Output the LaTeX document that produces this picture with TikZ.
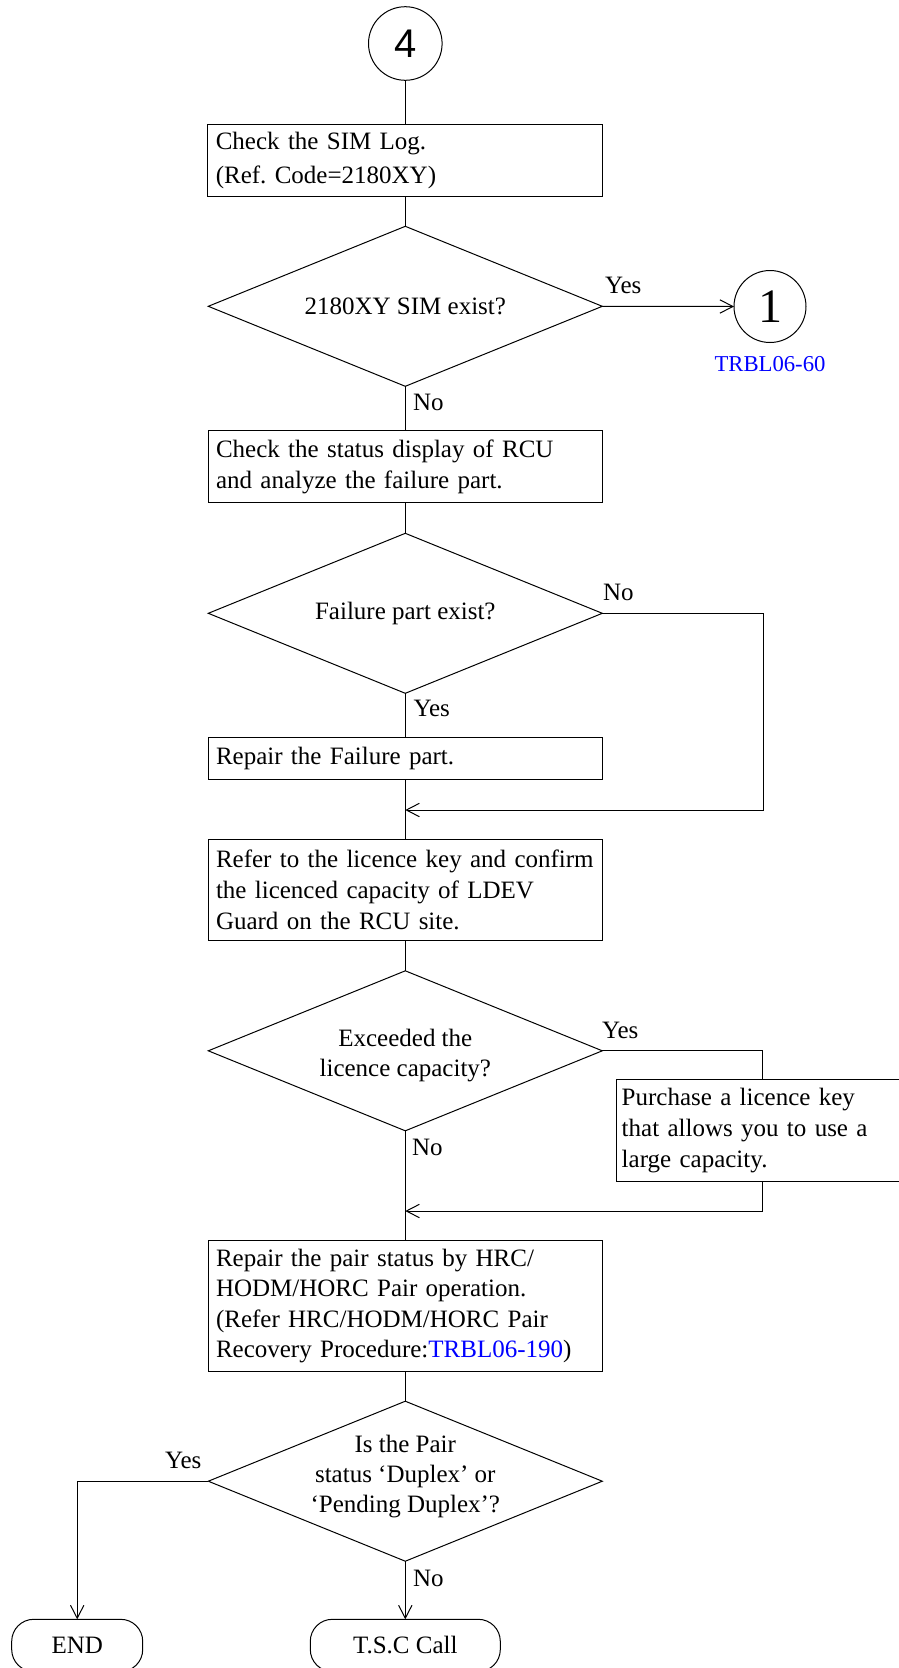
\documentclass[tikz,border=0pt]{standalone}
\usepackage{fontspec}
\setmainfont{Liberation Serif}
\newfontfamily\sansnum{Liberation Sans}
\usetikzlibrary{shapes.geometric,arrows.meta}
\definecolor{linkblue}{RGB}{0,0,255}
\frenchspacing
\hyphenpenalty=10000
\exhyphenpenalty=10000
\begin{document}
\begin{tikzpicture}[x=1pt,y=-1pt,
  every node/.style={inner sep=0pt, outer sep=0pt},
  line/.style={draw=black, line width=1pt},
  arr/.style={line, -{Straight Barb[length=13pt,width=13.4pt,line width=1pt]}},
  box/.style={draw, line width=1pt, rectangle, align=left, inner xsep=8pt, font=\fontsize{25}{31}\selectfont},
  dia/.style={draw, line width=1pt, diamond, minimum width=394pt, minimum height=160pt},
  dtext/.style={align=center, font=\fontsize{25}{30}\selectfont},
  lbl/.style={font=\fontsize{25}{30}\selectfont, anchor=base west},
  term/.style={draw, line width=1pt, rectangle, rounded corners=22pt, font=\fontsize{25}{30}\selectfont},
  conn/.style={draw, line width=1pt, circle}
]
\useasboundingbox (0,0) rectangle (899,1668);
\clip (0,0) rectangle (899,1668);

% nodes
\node[conn, minimum size=73.6pt, font=\sansnum\fontsize{40}{42}\selectfont] (c4) at (405.3,43.5) {4};
\node[box, text width=379pt, minimum height=72.4pt, font=\fontsize{25}{33.3}\selectfont] (b1) at (405.3,160.5) {Check the SIM Log.\\(Ref. Code=2180XY)};
\node[dia] (d1) at (405.3,306.3) {};
\node[dtext] (d1t) at (d1.center) {2180XY SIM exist?};
\node[conn, minimum size=72pt, font=\fontsize{48}{50}\selectfont] (c1) at (770,306.5) {1};
\node[font=\fontsize{22.7}{26}\selectfont, text=linkblue, anchor=base] (r1) at (770,371.7) {TRBL06-60};
\node[box, text width=378.6pt, minimum height=71.6pt] (b2) at (405.3,466.5) {Check the status display of RCU\\and analyze the failure part.};
\node[dia] (d2) at (405.3,613.3) {};
\node[dtext] (d2t) at (d2.center) {Failure part exist?};
\node[box, text width=378.6pt, minimum height=42.7pt] (b3) at (405.3,758.6) {Repair the Failure part.};
\node[box, text width=378.6pt, minimum height=101.4pt] (b4) at (405.3,890) {\mbox{Refer to the licence key and confirm}\\the licenced capacity of LDEV\\Guard on the RCU site.};
\node[dia] (d3) at (405.3,1050.8) {};
\node[dtext, yshift=-4.6pt] (d3t) at (d3.center) {Exceeded the\\licence capacity?};
\node[box, inner xsep=5pt, text width=281.6pt, minimum height=102.4pt] (p) at (762.5,1130.5) {Purchase a licence key\\that allows you to use a\\large capacity.};
\node[box, text width=378.6pt, minimum height=131.4pt, font=\fontsize{25}{30.3}\selectfont] (b5) at (405.3,1306) {Repair the pair status by HRC/\\HODM/HORC Pair operation.\\(Refer HRC/HODM/HORC Pair\\Recovery Procedure:\textcolor{linkblue}{TRBL06-190})};
\node[dia] (d4) at (405.3,1481.2) {};
\node[dtext, yshift=4.2pt] (d4t) at (d4.center) {Is the Pair\\status ‘Duplex’ or\\‘Pending Duplex’?};
\node[term, minimum width=131pt, minimum height=52.2pt] (endn) at (77.2,1645.4) {END};
\node[term, minimum width=190pt, minimum height=52.2pt] (tsc) at (405.3,1645.4) {T.S.C Call};

% labels
\node[lbl] (y1) at (605,293.3) {Yes};
\node[lbl] (n1) at (413,410.7) {No};
\node[lbl] (n2) at (603,600.7) {No};
\node[lbl] (y2) at (413.5,716.7) {Yes};
\node[lbl] (y3) at (602,1038.3) {Yes};
\node[lbl] (n3) at (412,1155) {No};
\node[lbl] (y4) at (165,1468.3) {Yes};
\node[lbl] (n4) at (413,1586) {No};

% connectors
\coordinate (k1) at (763,810);
\coordinate (m1) at (405.3,810);
\coordinate (m2) at (405.3,1211);
\draw[line] (c4.south) -- (b1.north);
\draw[line] (b1.south) -- (d1.north);
\draw[arr] (d1.east) -- (c1.west);
\draw[line] (d1.south) -- (b2.north);
\draw[line] (b2.south) -- (d2.north);
\draw[line] (d2.south) -- (b3.north);
\draw[line] (b3.south) -- (b4.north);
\draw[arr] (d2.east) -| (k1) -- (m1);
\draw[line] (b4.south) -- (d3.north);
\draw[line] (d3.east) -| (p.north);
\draw[line] (d3.south) -- (b5.north);
\draw[arr] (p.south) |- (m2);
\draw[line] (b5.south) -- (d4.north);
\draw[arr] (d4.west) -| (endn.north);
\draw[arr] (d4.south) -- (tsc.north);
\end{tikzpicture}
\end{document}
